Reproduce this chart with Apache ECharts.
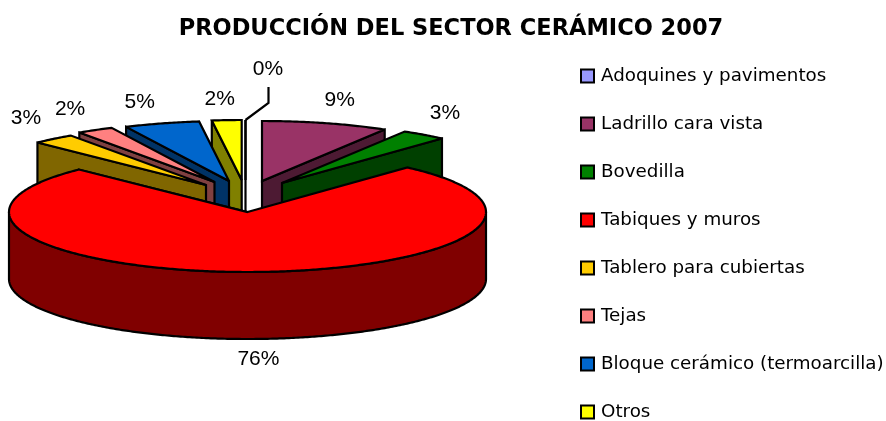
<!DOCTYPE html>
<html>
<head>
<meta charset="utf-8">
<style>html,body{margin:0;padding:0;background:#fff}#c{width:886px;height:421px}</style>
<script src="https://cdn.jsdelivr.net/npm/echarts@6/dist/echarts.min.js"></script>
</head>
<body>
<div id="c"></div>
<script>
// Data
const titleText = 'PRODUCCIÓN DEL SECTOR CERÁMICO 2007';
const categories = ['Adoquines y pavimentos','Ladrillo cara vista','Bovedilla','Tabiques y muros','Tablero para cubiertas','Tejas','Bloque cerámico (termoarcilla)','Otros'];
const values = [0, 8.6, 3.1, 75.8, 2.9, 2.49, 5.1, 2.0];
// Styles
const topColors  = ['#9999FF','#993366','#008000','#FF0000','#FFCC00','#FF8080','#0066CC','#FFFF00'];
const wallColors = ['#4D4D80','#4D1A33','#004000','#800000','#806600','#804040','#003366','#808000'];
// Painter's order: larger z is in front
const drawOrder = [5,6,7,8,4,3,2,1];
// Explosion of each slice from the pie centre [dx, dy]
const explode = [[-3,-32],[13.5,-31],[33.5,-29],[-1,0],[-42.5,-27],[-34,-30],[-19.5,-31],[-6.8,-32]];
// Label placement relative to the middle of each slice's rim [dx, dy]
const labelNudge = [[22.5,-51],[14,-23],[21,-22],[5,87],[-27.5,-21],[-25,-21],[-22,-21],[-7,-21]];

const cx = 248.5, cy = 212, rx = 238.5, ry = 60, depth = 67;
const total = values.reduce((a,b)=>a+b,0);
const lineW = 2.2;

function angles(i){
  let s = 0;
  for(let k=0;k<i;k++) s += values[k];
  return [s/total*2*Math.PI, (s+values[i])/total*2*Math.PI];
}
function rim(ax,ay,a){ return [ax+rx*Math.sin(a), ay-ry*Math.cos(a)]; }
function arcPts(ax,ay,a0,a1,dy){
  const n = Math.max(1,Math.ceil((a1-a0)/0.01)), p=[];
  for(let j=0;j<=n;j++){ const q=rim(ax,ay,a0+(a1-a0)*j/n); p.push([q[0],q[1]+(dy||0)]); }
  return p;
}
function poly(points,fill){
  return {type:'polygon',shape:{points:points},
    style:{fill:fill,stroke:'#000',lineWidth:lineW,lineJoin:'miter',miterLimit:3}};
}
function makeRender(i){
  return function(params,api){
    const v = api.value(0);
    const [a0,a1] = angles(i);
    const ax = cx+explode[i][0], ay = cy+explode[i][1];
    const mid = (a0+a1)/2;
    const children = [];
    // radial wall on the side that faces the viewer
    const edge = mid < Math.PI ? a1 : a0;
    const e = rim(ax,ay,edge);
    children.push(poly([[ax,ay],e,[e[0],e[1]+depth],[ax,ay+depth]],wallColors[i]));
    // curved outer wall for the front part of the rim
    const f0 = Math.max(a0,Math.PI/2), f1 = Math.min(a1,Math.PI*1.5);
    if(f1>f0){
      const up = arcPts(ax,ay,f0,f1,0), low = arcPts(ax,ay,f0,f1,depth).reverse();
      children.push(poly(up.concat(low),wallColors[i]));
    }
    // top face
    children.push(poly([[ax,ay]].concat(arcPts(ax,ay,a0,a1,0)),topColors[i]));
    // percentage label
    const m = rim(ax,ay,mid);
    children.push({type:'text',z2:10,style:{
      text:Math.round(v)+'%',x:m[0]+labelNudge[i][0],y:m[1]+labelNudge[i][1],
      align:'center',verticalAlign:'middle',fill:'#000',
      font:'21px "Liberation Sans", Arial, sans-serif'}});
    // leader line for the empty slice
    if(v===0){
      const t = rim(ax,ay,a0);
      children.push({type:'polyline',shape:{points:[t,[t[0]+23,t[1]-17],[t[0]+23,t[1]-33]]},
        style:{fill:null,stroke:'#000',lineWidth:lineW}});
    }
    return {type:'group',children:children};
  };
}

const chart = echarts.init(document.getElementById('c'),null,{renderer:'canvas'});
chart.setOption({
  animation:false,
  backgroundColor:'#fff',
  title:{text:titleText,left:451,top:18,padding:0,textAlign:'center',
    textStyle:{fontFamily:'"DejaVu Sans"',fontWeight:'bold',fontSize:22.5,color:'#000'}},
  legend:{
    orient:'vertical',left:580,top:67,padding:0,width:306,height:400,itemWidth:13,itemHeight:13,itemGap:30,
    icon:'rect',selectedMode:false,
    textStyle:{fontFamily:'"DejaVu Sans"',fontSize:18.3,color:'#000',padding:[0,0,0,2]},
    data:categories.map((n,i)=>({name:n,itemStyle:{color:topColors[i],borderColor:'#000',borderWidth:2}}))
  },
  series:categories.map((n,i)=>({
    type:'custom',name:n,coordinateSystem:'none',z:drawOrder[i],silent:true,
    itemStyle:{color:topColors[i]},
    renderItem:makeRender(i),
    data:[[values[i]]]
  }))
});
</script>
</body>
</html>
